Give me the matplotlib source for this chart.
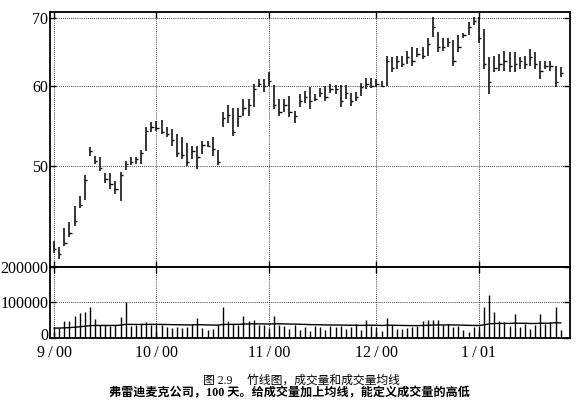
import numpy as np
import pandas as pd
import matplotlib
matplotlib.use('Agg')
import matplotlib.pyplot as plt
import matplotlib.transforms as mtransforms
from matplotlib.ticker import NullLocator

# 竹线图数据：100个交易日（2000年9月 - 2001年1月）
high = [42.21, 41.62, 43.44, 44.04, 45.66, 46.71, 48.98, 52.19, 51.14, 51.02,
        49.20, 49.20, 48.32, 49.32, 50.56, 51.02, 51.02, 51.84, 54.60, 55.22,
        55.34, 55.47, 54.60, 54.35, 53.74, 53.38, 52.67, 52.31, 52.31, 52.91,
        52.91, 53.38, 51.84, 56.48, 57.38, 56.99, 56.99, 58.17, 58.17, 60.17,
        60.86, 60.86, 61.83, 60.03, 58.17, 58.17, 58.56, 56.61, 58.83, 59.23,
        59.77, 58.83, 59.63, 59.90, 60.17, 60.03, 60.03, 60.03, 58.96, 59.09,
        60.31, 60.99, 60.99, 60.86, 60.58, 64.11, 63.97, 64.11, 64.11, 64.84,
        65.57, 65.42, 65.57, 66.91, 70.16, 67.82, 66.91, 66.91, 66.61, 67.36,
        67.67, 69.37, 70.16, 70.16, 68.28, 63.97, 64.11, 64.40, 64.84, 64.69,
        64.69, 63.97, 64.11, 65.13, 64.69, 63.39, 63.39, 63.39, 62.68, 62.54]
low = [41.12, 40.50, 41.71, 42.57, 43.64, 45.45, 46.29, 51.14, 50.22, 49.43,
       48.10, 47.46, 46.92, 46.18, 49.54, 50.11, 50.22, 50.22, 51.72, 53.99,
       54.11, 53.74, 53.38, 52.31, 51.02, 50.79, 49.99, 50.79, 49.65, 51.37,
       52.19, 51.14, 50.11, 54.60, 55.09, 53.50, 54.60, 55.97, 55.97, 57.12,
       59.77, 59.09, 59.90, 56.86, 55.97, 56.48, 55.84, 55.09, 57.12, 57.64,
       56.86, 57.91, 58.43, 57.91, 58.96, 58.83, 57.12, 58.17, 57.25, 57.91,
       58.56, 59.50, 59.63, 59.77, 59.77, 59.90, 61.83, 62.25, 62.54, 62.96,
       62.68, 63.97, 63.68, 64.11, 67.06, 64.69, 64.84, 65.57, 62.68, 64.69,
       66.91, 67.36, 68.90, 66.16, 62.25, 58.83, 61.83, 61.97, 61.97, 61.83,
       61.83, 62.25, 62.25, 62.68, 62.25, 60.86, 62.25, 61.97, 59.77, 61.13]
close = [41.5, 41.0, 42.0, 43.0, 44.2, 45.8, 48.5, 51.8, 50.6, 49.8,
         48.6, 48.0, 47.5, 49.0, 50.2, 50.5, 50.8, 51.5, 54.2, 54.6,
         54.5, 54.0, 53.8, 53.0, 51.5, 51.3, 50.5, 51.8, 51.0, 52.5,
         52.4, 52.0, 50.5, 55.8, 56.2, 54.0, 56.0, 57.0, 57.5, 59.5,
         60.3, 60.0, 60.7, 57.5, 56.5, 57.5, 56.5, 56.0, 58.0, 58.5,
         58.0, 58.2, 59.0, 58.5, 59.5, 59.5, 58.0, 59.0, 58.0, 58.5,
         59.8, 60.2, 60.0, 60.2, 60.0, 63.5, 62.5, 63.5, 63.0, 64.0,
         63.5, 64.5, 64.2, 66.0, 68.5, 65.5, 65.5, 66.2, 63.5, 65.5,
         67.3, 68.5, 69.5, 66.8, 63.0, 60.5, 62.5, 63.0, 63.5, 62.8,
         63.0, 63.5, 63.0, 64.0, 63.0, 62.0, 62.8, 62.8, 60.5, 61.8]
volume = [28000, 28000, 47000, 47000, 63000, 70000, 74000, 86000, 53000, 36000,
          36000, 34000, 38000, 60000, 101000, 34000, 36000, 40000, 44000, 38000,
          36000, 36000, 30000, 28000, 32000, 28000, 30000, 40000, 55000, 28000,
          22000, 26000, 38000, 86000, 48000, 40000, 38000, 63000, 48000, 50000,
          36000, 36000, 28000, 63000, 36000, 34000, 26000, 36000, 22000, 30000,
          20000, 33000, 30000, 22000, 34000, 30000, 35000, 25000, 30000, 40000,
          22000, 50000, 35000, 30000, 20000, 57000, 38000, 25000, 25000, 28000,
          30000, 35000, 48000, 50000, 50000, 50000, 38000, 40000, 30000, 35000,
          22000, 18000, 30000, 35000, 86000, 120000, 74000, 48000, 46000, 35000,
          67000, 30000, 40000, 25000, 38000, 67000, 40000, 45000, 86000, 22000]

month_pos = [0, 20, 42, 63, 83]
month_labels = ['9\u2009/\u200900', '10\u2009/\u200900', '11\u2009/\u200900',
                '12\u2009/\u200900', '1\u2009/\u200901']
price_ticks = [50, 60, 70]
vol_ticks = [0, 100000, 200000]

plt.rcParams['font.family'] = ['Liberation Serif', 'Noto Sans CJK SC']

fig = plt.figure(figsize=(5.83, 4.11), dpi=100)
ax = fig.add_axes([0.0866, 0.3504, 0.891, 0.6204])
axv = fig.add_axes([0.0866, 0.1776, 0.891, 0.1728], sharex=ax)

x = np.arange(len(high))

# 价格竹线
ax.vlines(x, low, high, color='black', lw=1.1)
ax.hlines(close, x, x + 0.45, color='black', lw=1.0)
ax.set_yscale('log')
ax.set_ylim(39.8, 70.9)
ax.set_yticks(price_ticks)
ax.set_yticklabels([str(t) for t in price_ticks])
ax.yaxis.set_minor_locator(NullLocator())
ax.set_xlim(-0.7, 100.8)

# 成交量和均线
ma = pd.Series(volume).ewm(span=60, adjust=False).mean()
axv.vlines(x, 0, volume, color='black', lw=1.0)
axv.plot(x, ma, color='black', lw=1.0)
axv.set_ylim(0, 200000)
axv.set_yticks(vol_ticks)
axv.set_yticklabels([str(t) for t in vol_ticks])
axv.set_xticks(month_pos)
axv.set_xticklabels(month_labels)

for a in (ax, axv):
    a.grid(True, linestyle=(0, (1, 1.5)), color='black', lw=0.6)
    a.tick_params(direction='in', top=True, right=True, length=4, width=1,
                  labelsize=11.5, pad=1.5)
    for s in a.spines.values():
        s.set_linewidth(1.3)
ax.tick_params(labelbottom=False)
axv.tick_params(axis='x', pad=5)

# "0" 标签稍微上移，避免和 9/00 重叠
lbl0 = axv.get_yticklabels()[0]
lbl0.set_transform(lbl0.get_transform() +
                   mtransforms.ScaledTranslation(0, 3 / 72, fig.dpi_scale_trans))

fig.text(301 / 583, 1 - 381 / 411, '图 2.9\u3000 竹线图，成交量和成交量均线',
         ha='center', va='center', fontsize=8.5)
fig.text(289 / 583, 1 - 393 / 411, '弗雷迪麦克公司，100 天。给成交量加上均线，能定义成交量的高低',
         ha='center', va='center', fontsize=8.7, weight='bold')

fig.savefig('out.png', dpi=100)
